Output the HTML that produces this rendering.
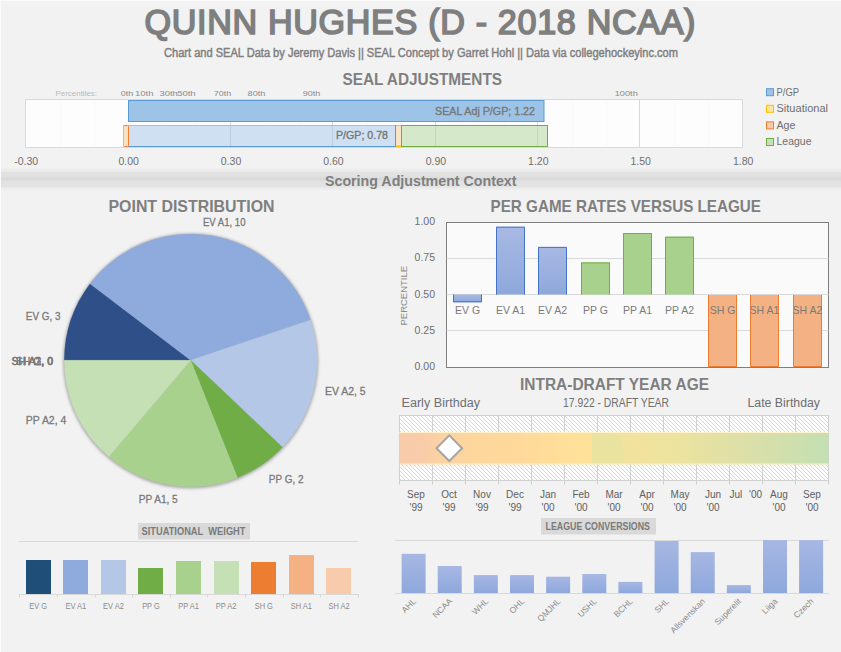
<!DOCTYPE html>
<html><head><meta charset="utf-8"><title>Quinn Hughes SEAL</title>
<style>html,body{margin:0;padding:0;background:#f2f2f2;width:841px;height:652px;overflow:hidden}svg{display:block}text{font-family:"Liberation Sans",sans-serif}</style>
</head><body>
<svg width="841" height="652" viewBox="0 0 841 652" font-family="Liberation Sans, sans-serif"><rect x="0" y="0" width="841" height="652" fill="#f2f2f2"/>
<rect x="0" y="0" width="841" height="1" fill="#fbfbfb"/>
<rect x="0" y="0" width="1" height="652" fill="#fbfbfb"/>
<text transform="scale(0.97,1)" x="148.97" y="34.3" font-size="35.2" stroke="#7f7f7f" stroke-width="1.7" fill="#7f7f7f" text-anchor="start" textLength="568.04" lengthAdjust="spacing" >QUINN HUGHES (D - 2018 NCAA)</text>
<text x="164" y="57" font-size="12.3" stroke="#7f7f7f" stroke-width="0.45" fill="#7f7f7f" text-anchor="start" textLength="514" lengthAdjust="spacingAndGlyphs" >Chart and SEAL Data by Jeremy Davis || SEAL Concept by Garret Hohl || Data via collegehockeyinc.com</text>
<text x="342.5" y="84.8" font-size="16.5" font-weight="bold" fill="#7f7f7f" text-anchor="start" textLength="159.5" lengthAdjust="spacingAndGlyphs" >SEAL ADJUSTMENTS</text>
<rect x="25.5" y="99.5" width="717" height="48" fill="#fdfdfd" stroke="#d9d9d9" stroke-width="1"/>
<line x1="60.5" y1="100" x2="60.5" y2="147" stroke="#f9f9f9" stroke-width="1"/>
<line x1="94.5" y1="100" x2="94.5" y2="147" stroke="#f9f9f9" stroke-width="1"/>
<line x1="162.5" y1="100" x2="162.5" y2="147" stroke="#f9f9f9" stroke-width="1"/>
<line x1="196.5" y1="100" x2="196.5" y2="147" stroke="#f9f9f9" stroke-width="1"/>
<line x1="265.5" y1="100" x2="265.5" y2="147" stroke="#f9f9f9" stroke-width="1"/>
<line x1="299.5" y1="100" x2="299.5" y2="147" stroke="#f9f9f9" stroke-width="1"/>
<line x1="367.5" y1="100" x2="367.5" y2="147" stroke="#f9f9f9" stroke-width="1"/>
<line x1="401.5" y1="100" x2="401.5" y2="147" stroke="#f9f9f9" stroke-width="1"/>
<line x1="469.5" y1="100" x2="469.5" y2="147" stroke="#f9f9f9" stroke-width="1"/>
<line x1="504.5" y1="100" x2="504.5" y2="147" stroke="#f9f9f9" stroke-width="1"/>
<line x1="572.5" y1="100" x2="572.5" y2="147" stroke="#f9f9f9" stroke-width="1"/>
<line x1="606.5" y1="100" x2="606.5" y2="147" stroke="#f9f9f9" stroke-width="1"/>
<line x1="674.5" y1="100" x2="674.5" y2="147" stroke="#f9f9f9" stroke-width="1"/>
<line x1="708.5" y1="100" x2="708.5" y2="147" stroke="#f9f9f9" stroke-width="1"/>
<line x1="230.5" y1="100" x2="230.5" y2="147" stroke="#d9d9d9" stroke-width="1"/>
<line x1="332.5" y1="100" x2="332.5" y2="147" stroke="#d9d9d9" stroke-width="1"/>
<line x1="435.5" y1="100" x2="435.5" y2="147" stroke="#d9d9d9" stroke-width="1"/>
<line x1="537.5" y1="100" x2="537.5" y2="147" stroke="#d9d9d9" stroke-width="1"/>
<line x1="639.5" y1="100" x2="639.5" y2="147" stroke="#d9d9d9" stroke-width="1"/>
<rect x="128.5" y="100.5" width="415.5" height="21" fill="#9dc3e6" stroke="#5b9bd5" stroke-width="1"/>
<text x="535" y="114.6" font-size="11.4" stroke="#767676" stroke-width="0.35" fill="#767676" text-anchor="end" textLength="100" lengthAdjust="spacingAndGlyphs" >SEAL Adj P/GP; 1.22</text>
<rect x="128" y="125" width="267" height="22" fill="#cfe0f2"/>
<rect x="230" y="126" width="1" height="20" fill="#b8cbdf"/>
<rect x="332" y="126" width="1" height="20" fill="#b8cbdf"/>
<rect x="128" y="125" width="267" height="1" fill="#9dc3e6"/>
<rect x="128" y="146" width="267" height="1" fill="#5b9bd5"/>
<text x="388" y="138.9" font-size="11.4" stroke="#767676" stroke-width="0.35" fill="#767676" text-anchor="end" textLength="52" lengthAdjust="spacingAndGlyphs" >P/GP; 0.78</text>
<rect x="395" y="125" width="153" height="22" fill="#d5e8c9"/>
<rect x="435" y="126" width="1" height="20" fill="#c3d9b5"/>
<rect x="537" y="126" width="1" height="20" fill="#c3d9b5"/>
<rect x="395.5" y="125.5" width="152" height="21" fill="none" stroke="#70ad47" stroke-width="1"/>
<rect x="396" y="125" width="5.5" height="21.5" fill="#fbe3c6"/>
<rect x="396" y="145.5" width="5.5" height="1.5" fill="#ffc000"/>
<rect x="396" y="125" width="5.5" height="1" fill="#f4b183"/>
<rect x="401" y="125" width="1" height="22" fill="#70ad47"/>
<rect x="123.5" y="125.5" width="5" height="21" rx="1" fill="#f8e0c0" stroke="#ed7d31" stroke-width="1"/>
<rect x="123" y="125" width="1" height="21" fill="#f4b183"/>
<text x="55.5" y="96" font-size="8" fill="#b8b8b8" text-anchor="start" textLength="41.5" lengthAdjust="spacingAndGlyphs" >Percentiles:</text>
<text x="120.7" y="96" font-size="8" fill="#8a8a8a" text-anchor="start" textLength="12.6" lengthAdjust="spacingAndGlyphs" >0th</text>
<text x="135.1" y="96" font-size="8" fill="#8a8a8a" text-anchor="start" textLength="18.4" lengthAdjust="spacingAndGlyphs" >10th</text>
<text x="159.39999999999998" y="96" font-size="8" fill="#8a8a8a" text-anchor="start" textLength="18.4" lengthAdjust="spacingAndGlyphs" >30th</text>
<text x="177.2" y="96" font-size="8" fill="#8a8a8a" text-anchor="start" textLength="18.4" lengthAdjust="spacingAndGlyphs" >50th</text>
<text x="213.79999999999998" y="96" font-size="8" fill="#8a8a8a" text-anchor="start" textLength="17.6" lengthAdjust="spacingAndGlyphs" >70th</text>
<text x="247.6" y="96" font-size="8" fill="#8a8a8a" text-anchor="start" textLength="17.8" lengthAdjust="spacingAndGlyphs" >80th</text>
<text x="302.7" y="96" font-size="8" fill="#8a8a8a" text-anchor="start" textLength="17.6" lengthAdjust="spacingAndGlyphs" >90th</text>
<text x="614.7" y="96" font-size="8" fill="#8a8a8a" text-anchor="start" textLength="23.1" lengthAdjust="spacingAndGlyphs" >100th</text>
<text x="26.2" y="165.3" font-size="10.5" fill="#6f6f6f" text-anchor="middle" >-0.30</text>
<text x="128.6" y="165.3" font-size="10.5" fill="#6f6f6f" text-anchor="middle" >0.00</text>
<text x="231.0" y="165.3" font-size="10.5" fill="#6f6f6f" text-anchor="middle" >0.30</text>
<text x="333.4" y="165.3" font-size="10.5" fill="#6f6f6f" text-anchor="middle" >0.60</text>
<text x="435.9" y="165.3" font-size="10.5" fill="#6f6f6f" text-anchor="middle" >0.90</text>
<text x="538.3" y="165.3" font-size="10.5" fill="#6f6f6f" text-anchor="middle" >1.20</text>
<text x="640.7" y="165.3" font-size="10.5" fill="#6f6f6f" text-anchor="middle" >1.50</text>
<text x="743.1" y="165.3" font-size="10.5" fill="#6f6f6f" text-anchor="middle" >1.80</text>
<rect x="766.5" y="88.7" width="7" height="7" fill="#9dc3e6" stroke="#5b9bd5" stroke-width="1"/>
<text x="776.5" y="95.5" font-size="10" fill="#6f6f6f" text-anchor="start" textLength="22.5" lengthAdjust="spacingAndGlyphs" >P/GP</text>
<rect x="766.5" y="105.3" width="7" height="7" fill="#ffe699" stroke="#ffc000" stroke-width="1"/>
<text x="776.5" y="112.10000000000001" font-size="10" fill="#6f6f6f" text-anchor="start" textLength="51.5" lengthAdjust="spacingAndGlyphs" >Situational</text>
<rect x="766.5" y="121.9" width="7" height="7" fill="#f8cbad" stroke="#ed7d31" stroke-width="1"/>
<text x="776.5" y="128.70000000000002" font-size="10" fill="#6f6f6f" text-anchor="start" textLength="19" lengthAdjust="spacingAndGlyphs" >Age</text>
<rect x="766.5" y="138.5" width="7" height="7" fill="#c5e0b4" stroke="#70ad47" stroke-width="1"/>
<text x="776.5" y="145.3" font-size="10" fill="#6f6f6f" text-anchor="start" textLength="35" lengthAdjust="spacingAndGlyphs" >League</text>
<defs><linearGradient id="band" x1="0" y1="168" x2="0" y2="190" gradientUnits="userSpaceOnUse"><stop offset="0" stop-color="#f0f0f0"/><stop offset="0.05" stop-color="#ececec"/><stop offset="0.16" stop-color="#eaeaea"/><stop offset="0.2" stop-color="#e3e3e3"/><stop offset="0.4" stop-color="#e0e0e0"/><stop offset="0.45" stop-color="#dadada"/><stop offset="0.55" stop-color="#dadada"/><stop offset="0.6" stop-color="#e1e1e1"/><stop offset="0.85" stop-color="#e3e3e3"/><stop offset="0.9" stop-color="#ebebeb"/><stop offset="0.98" stop-color="#eeeeee"/><stop offset="1" stop-color="#f2f2f2"/></linearGradient></defs>
<rect x="1" y="168" width="840" height="22" fill="url(#band)"/>
<text x="325" y="185.8" font-size="13.8" font-weight="bold" fill="#7f7f7f" text-anchor="start" textLength="191.5" lengthAdjust="spacingAndGlyphs" >Scoring Adjustment Context</text>
<text x="108.5" y="212" font-size="17.4" font-weight="bold" fill="#7f7f7f" text-anchor="start" textLength="166" lengthAdjust="spacingAndGlyphs" >POINT DISTRIBUTION</text>
<defs><filter id="psh" x="-10%" y="-10%" width="120%" height="120%"><feGaussianBlur stdDeviation="1.8"/></filter></defs>
<circle cx="190.7" cy="361.0" r="127.60000000000001" fill="#aaaaaa" filter="url(#psh)"/>
<path d="M190.7,360.3 L64.30,360.30 A126.4,126.4 0 0 1 90.07,283.81 Z" fill="#2e4f88" stroke="#2e4f88" stroke-width="0.3"/>
<path d="M190.7,360.3 L90.07,283.81 A126.4,126.4 0 0 1 310.48,319.94 Z" fill="#8faadc" stroke="#8faadc" stroke-width="0.3"/>
<path d="M190.7,360.3 L310.48,319.94 A126.4,126.4 0 0 1 282.47,447.23 Z" fill="#b4c7e7" stroke="#b4c7e7" stroke-width="0.3"/>
<path d="M190.7,360.3 L282.47,447.23 A126.4,126.4 0 0 1 237.49,477.72 Z" fill="#70ad47" stroke="#70ad47" stroke-width="0.3"/>
<path d="M190.7,360.3 L237.49,477.72 A126.4,126.4 0 0 1 108.87,456.64 Z" fill="#a9d18e" stroke="#a9d18e" stroke-width="0.3"/>
<path d="M190.7,360.3 L108.87,456.64 A126.4,126.4 0 0 1 64.30,360.30 Z" fill="#c5e0b4" stroke="#c5e0b4" stroke-width="0.3"/>
<text x="203.0" y="226" font-size="10.5" stroke="#7a7a7a" stroke-width="0.3" fill="#7a7a7a" text-anchor="start" textLength="42.5" lengthAdjust="spacingAndGlyphs" >EV A1, 10</text>
<text x="25.8" y="320" font-size="10.5" stroke="#7a7a7a" stroke-width="0.3" fill="#7a7a7a" text-anchor="start" textLength="34.6" lengthAdjust="spacingAndGlyphs" >EV G, 3</text>
<text x="25.8" y="424.1" font-size="10.5" stroke="#7a7a7a" stroke-width="0.3" fill="#7a7a7a" text-anchor="start" textLength="40.5" lengthAdjust="spacingAndGlyphs" >PP A2, 4</text>
<text x="138.7" y="503" font-size="10.5" stroke="#7a7a7a" stroke-width="0.3" fill="#7a7a7a" text-anchor="start" textLength="39.0" lengthAdjust="spacingAndGlyphs" >PP A1, 5</text>
<text x="268.8" y="483" font-size="10.5" stroke="#7a7a7a" stroke-width="0.3" fill="#7a7a7a" text-anchor="start" textLength="34.7" lengthAdjust="spacingAndGlyphs" >PP G, 2</text>
<text x="325.1" y="395.3" font-size="10.5" stroke="#7a7a7a" stroke-width="0.3" fill="#7a7a7a" text-anchor="start" textLength="40.5" lengthAdjust="spacingAndGlyphs" >EV A2, 5</text>
<text x="53" y="365" font-size="10.5" stroke="#7a7a7a" stroke-width="0.3" fill="#7a7a7a" text-anchor="end" >SH G, 0</text>
<text x="53" y="365" font-size="10.5" stroke="#7a7a7a" stroke-width="0.3" fill="#7a7a7a" text-anchor="end" >SH A1, 0</text>
<text x="53" y="365" font-size="10.5" stroke="#7a7a7a" stroke-width="0.3" fill="#7a7a7a" text-anchor="end" >SH A2, 0</text>
<text x="490.5" y="212" font-size="16.7" font-weight="bold" fill="#7f7f7f" text-anchor="start" textLength="270.5" lengthAdjust="spacingAndGlyphs" >PER GAME RATES VERSUS LEAGUE</text>
<rect x="446.5" y="222.5" width="382.0" height="145.0" fill="#fafafa" stroke="#7f7f7f" stroke-width="1"/>
<line x1="446.5" y1="330.5" x2="828.5" y2="330.5" stroke="#d9d9d9" stroke-width="1"/>
<line x1="446.5" y1="294.5" x2="828.5" y2="294.5" stroke="#d9d9d9" stroke-width="1"/>
<line x1="446.5" y1="258.5" x2="828.5" y2="258.5" stroke="#d9d9d9" stroke-width="1"/>
<defs><linearGradient id="bg1" x1="0" y1="0" x2="0" y2="1"><stop offset="0" stop-color="#a8b9e3"/><stop offset="1" stop-color="#8ea8dc"/></linearGradient></defs>
<rect x="453.0" y="294.5" width="29" height="7.8" fill="url(#bg1)"/>
<path d="M453.5,294.5 V301.8 H481.5 V294.5" fill="none" stroke="#4472c4" stroke-width="1"/>
<rect x="496.0" y="226.7" width="29" height="67.8" fill="url(#bg1)"/>
<path d="M496.5,294.5 V227.2 H524.5 V294.5" fill="none" stroke="#4472c4" stroke-width="1"/>
<rect x="538.0" y="246.9" width="29" height="47.6" fill="url(#bg1)"/>
<path d="M538.5,294.5 V247.4 H566.5 V294.5" fill="none" stroke="#4472c4" stroke-width="1"/>
<rect x="581.0" y="262.4" width="29" height="32.1" fill="#a9d18e"/>
<path d="M581.5,294.5 V262.9 H609.5 V294.5" fill="none" stroke="#70ad47" stroke-width="1"/>
<rect x="623.0" y="233.0" width="29" height="61.5" fill="#a9d18e"/>
<path d="M623.5,294.5 V233.5 H651.5 V294.5" fill="none" stroke="#70ad47" stroke-width="1"/>
<rect x="665.0" y="236.7" width="29" height="57.8" fill="#a9d18e"/>
<path d="M665.5,294.5 V237.2 H693.5 V294.5" fill="none" stroke="#70ad47" stroke-width="1"/>
<rect x="708.0" y="295.0" width="29" height="72.0" fill="#f4b183"/>
<path d="M708.5,295.0 V366.5 H736.5 V295.0" fill="none" stroke="#ed7d31" stroke-width="1"/>
<rect x="750.0" y="295.0" width="29" height="72.0" fill="#f4b183"/>
<path d="M750.5,295.0 V366.5 H778.5 V295.0" fill="none" stroke="#ed7d31" stroke-width="1"/>
<rect x="793.0" y="295.0" width="29" height="72.0" fill="#f4b183"/>
<path d="M793.5,295.0 V366.5 H821.5 V295.0" fill="none" stroke="#ed7d31" stroke-width="1"/>
<text x="467.5" y="313.9" font-size="10.5" fill="#7a7a7a" text-anchor="middle" >EV G</text>
<text x="510.5" y="313.9" font-size="10.5" fill="#7a7a7a" text-anchor="middle" >EV A1</text>
<text x="552.5" y="313.9" font-size="10.5" fill="#7a7a7a" text-anchor="middle" >EV A2</text>
<text x="595.5" y="313.9" font-size="10.5" fill="#7a7a7a" text-anchor="middle" >PP G</text>
<text x="637.5" y="313.9" font-size="10.5" fill="#7a7a7a" text-anchor="middle" >PP A1</text>
<text x="679.5" y="313.9" font-size="10.5" fill="#7a7a7a" text-anchor="middle" >PP A2</text>
<text x="722.5" y="313.9" font-size="10.5" fill="#7a7a7a" text-anchor="middle" >SH G</text>
<text x="764.5" y="313.9" font-size="10.5" fill="#7a7a7a" text-anchor="middle" >SH A1</text>
<text x="807.5" y="313.9" font-size="10.5" fill="#7a7a7a" text-anchor="middle" >SH A2</text>
<text x="435" y="370.2" font-size="10.5" fill="#6f6f6f" text-anchor="end" >0.00</text>
<text x="435" y="333.95" font-size="10.5" fill="#6f6f6f" text-anchor="end" >0.25</text>
<text x="435" y="297.7" font-size="10.5" fill="#6f6f6f" text-anchor="end" >0.50</text>
<text x="435" y="261.45" font-size="10.5" fill="#6f6f6f" text-anchor="end" >0.75</text>
<text x="435" y="225.2" font-size="10.5" fill="#6f6f6f" text-anchor="end" >1.00</text>
<text x="0" y="0" font-size="9.5" fill="#8a8a8a" text-anchor="middle" transform="translate(407.3,295.7) rotate(-90)" font-family="Liberation Sans, sans-serif">PERCENTILE</text>
<text x="520" y="390" font-size="17.4" font-weight="bold" fill="#7f7f7f" text-anchor="start" textLength="189" lengthAdjust="spacingAndGlyphs" >INTRA-DRAFT YEAR AGE</text>
<text x="401.5" y="407" font-size="12" fill="#6f6f6f" text-anchor="start" textLength="78.5" lengthAdjust="spacingAndGlyphs" >Early Birthday</text>
<text x="563" y="407" font-size="12" fill="#6f6f6f" text-anchor="start" textLength="106" lengthAdjust="spacingAndGlyphs" >17.922 - DRAFT YEAR</text>
<text x="747.5" y="407.2" font-size="12" fill="#6f6f6f" text-anchor="start" textLength="72.5" lengthAdjust="spacingAndGlyphs" >Late Birthday</text>
<defs><pattern id="hatch" x="1" y="0" width="4" height="4" patternUnits="userSpaceOnUse"><rect width="4" height="4" fill="#ffffff"/><rect x="0" y="0" width="1" height="1" fill="#d6d6d6"/><rect x="1" y="1" width="1" height="1" fill="#d6d6d6"/><rect x="2" y="2" width="1" height="1" fill="#d6d6d6"/><rect x="3" y="3" width="1" height="1" fill="#d6d6d6"/></pattern><linearGradient id="agegrad" x1="399" y1="0" x2="828" y2="0" gradientUnits="userSpaceOnUse"><stop offset="0" stop-color="#f8cbab"/><stop offset="0.047" stop-color="#f8cbab"/><stop offset="0.095" stop-color="#fbd2a2"/><stop offset="0.165" stop-color="#fdd69d"/><stop offset="0.282" stop-color="#ffd99a"/><stop offset="0.42" stop-color="#ffe199"/><stop offset="0.448" stop-color="#ffe29a"/><stop offset="0.452" stop-color="#f4e29c"/><stop offset="0.55" stop-color="#f1e29d"/><stop offset="0.62" stop-color="#eee39e"/><stop offset="0.65" stop-color="#ece39f"/><stop offset="0.75" stop-color="#e2e0a4"/><stop offset="0.867" stop-color="#d5dfab"/><stop offset="1" stop-color="#c3dfb3"/></linearGradient></defs>
<rect x="399" y="415" width="430" height="66" fill="url(#hatch)"/>
<rect x="399.5" y="415.5" width="429" height="65" fill="none" stroke="#d0d0d0" stroke-width="1"/>
<line x1="399.5" y1="415" x2="399.5" y2="484.5" stroke="#d0d0d0" stroke-width="1"/>
<line x1="432.5" y1="415" x2="432.5" y2="484.5" stroke="#d0d0d0" stroke-width="1"/>
<line x1="465.5" y1="415" x2="465.5" y2="484.5" stroke="#d0d0d0" stroke-width="1"/>
<line x1="498.5" y1="415" x2="498.5" y2="484.5" stroke="#d0d0d0" stroke-width="1"/>
<line x1="531.5" y1="415" x2="531.5" y2="484.5" stroke="#d0d0d0" stroke-width="1"/>
<line x1="564.5" y1="415" x2="564.5" y2="484.5" stroke="#d0d0d0" stroke-width="1"/>
<line x1="597.5" y1="415" x2="597.5" y2="484.5" stroke="#d0d0d0" stroke-width="1"/>
<line x1="630.5" y1="415" x2="630.5" y2="484.5" stroke="#d0d0d0" stroke-width="1"/>
<line x1="663.5" y1="415" x2="663.5" y2="484.5" stroke="#d0d0d0" stroke-width="1"/>
<line x1="696.5" y1="415" x2="696.5" y2="484.5" stroke="#d0d0d0" stroke-width="1"/>
<line x1="729.5" y1="415" x2="729.5" y2="484.5" stroke="#d0d0d0" stroke-width="1"/>
<line x1="762.5" y1="415" x2="762.5" y2="484.5" stroke="#d0d0d0" stroke-width="1"/>
<line x1="795.5" y1="415" x2="795.5" y2="484.5" stroke="#d0d0d0" stroke-width="1"/>
<line x1="828.5" y1="415" x2="828.5" y2="484.5" stroke="#d0d0d0" stroke-width="1"/>
<rect x="399.5" y="432" width="429" height="32.5" fill="url(#agegrad)"/>
<path d="M592,433 H611 Q622,436 624,448 V464 H592 Z" fill="#eae3a0"/>
<rect x="399.5" y="432" width="429" height="1" fill="#fff2cc"/>
<rect x="399.5" y="463.5" width="429" height="1" fill="#fff2cc"/>
<path d="M436.5,448.2 L449.3,435.4 L462.1,448.2 L449.3,461.0 Z" fill="#ffffff" stroke="#a5a5a5" stroke-width="2"/>
<text x="416.0" y="497.8" font-size="10" fill="#606060" text-anchor="middle" >Sep</text>
<text x="416.0" y="510.8" font-size="10" fill="#606060" text-anchor="middle" >'99</text>
<text x="449.0" y="497.8" font-size="10" fill="#606060" text-anchor="middle" >Oct</text>
<text x="449.0" y="510.8" font-size="10" fill="#606060" text-anchor="middle" >'99</text>
<text x="482.0" y="497.8" font-size="10" fill="#606060" text-anchor="middle" >Nov</text>
<text x="482.0" y="510.8" font-size="10" fill="#606060" text-anchor="middle" >'99</text>
<text x="515.0" y="497.8" font-size="10" fill="#606060" text-anchor="middle" >Dec</text>
<text x="515.0" y="510.8" font-size="10" fill="#606060" text-anchor="middle" >'99</text>
<text x="548.0" y="497.8" font-size="10" fill="#606060" text-anchor="middle" >Jan</text>
<text x="548.0" y="510.8" font-size="10" fill="#606060" text-anchor="middle" >'00</text>
<text x="581.0" y="497.8" font-size="10" fill="#606060" text-anchor="middle" >Feb</text>
<text x="581.0" y="510.8" font-size="10" fill="#606060" text-anchor="middle" >'00</text>
<text x="614.0" y="497.8" font-size="10" fill="#606060" text-anchor="middle" >Mar</text>
<text x="614.0" y="510.8" font-size="10" fill="#606060" text-anchor="middle" >'00</text>
<text x="647.0" y="497.8" font-size="10" fill="#606060" text-anchor="middle" >Apr</text>
<text x="647.0" y="510.8" font-size="10" fill="#606060" text-anchor="middle" >'00</text>
<text x="680.0" y="497.8" font-size="10" fill="#606060" text-anchor="middle" >May</text>
<text x="680.0" y="510.8" font-size="10" fill="#606060" text-anchor="middle" >'00</text>
<text x="713.0" y="497.8" font-size="10" fill="#606060" text-anchor="middle" >Jun</text>
<text x="713.0" y="510.8" font-size="10" fill="#606060" text-anchor="middle" >'00</text>
<text x="735.8" y="497.8" font-size="10" fill="#606060" text-anchor="middle" >Jul</text>
<text x="755.5" y="497.8" font-size="10" fill="#606060" text-anchor="middle" >'00</text>
<text x="779.0" y="497.8" font-size="10" fill="#606060" text-anchor="middle" >Aug</text>
<text x="779.0" y="510.8" font-size="10" fill="#606060" text-anchor="middle" >'00</text>
<text x="812.0" y="497.8" font-size="10" fill="#606060" text-anchor="middle" >Sep</text>
<text x="812.0" y="510.8" font-size="10" fill="#606060" text-anchor="middle" >'00</text>
<rect x="138" y="523" width="112" height="16.5" fill="#d9d9d9"/>
<text x="141.5" y="534.7" font-size="10.2" font-weight="bold" fill="#7a7a7a" text-anchor="start" textLength="104" lengthAdjust="spacingAndGlyphs" >SITUATIONAL  WEIGHT</text>
<rect x="19" y="541" width="339" height="1" fill="#d9d9d9"/>
<rect x="19" y="594" width="339" height="1" fill="#d9d9d9"/>
<rect x="26" y="560" width="25" height="34" fill="#1f4e79"/>
<text x="38.2" y="609" font-size="8.5" fill="#8a8a8a" text-anchor="middle" textLength="17.9" lengthAdjust="spacingAndGlyphs" >EV G</text>
<rect x="63" y="560" width="25" height="34" fill="#8faadc"/>
<text x="75.8" y="609" font-size="8.5" fill="#8a8a8a" text-anchor="middle" textLength="20.8" lengthAdjust="spacingAndGlyphs" >EV A1</text>
<rect x="101" y="560" width="25" height="34" fill="#b4c7e7"/>
<text x="113.4" y="609" font-size="8.5" fill="#8a8a8a" text-anchor="middle" textLength="20.8" lengthAdjust="spacingAndGlyphs" >EV A2</text>
<rect x="138" y="568" width="25" height="26" fill="#70ad47"/>
<text x="151.0" y="609" font-size="8.5" fill="#8a8a8a" text-anchor="middle" textLength="17.7" lengthAdjust="spacingAndGlyphs" >PP G</text>
<rect x="176" y="561" width="25" height="33" fill="#a9d18e"/>
<text x="188.6" y="609" font-size="8.5" fill="#8a8a8a" text-anchor="middle" textLength="20.7" lengthAdjust="spacingAndGlyphs" >PP A1</text>
<rect x="214" y="561" width="25" height="33" fill="#c5e0b4"/>
<text x="226.2" y="609" font-size="8.5" fill="#8a8a8a" text-anchor="middle" textLength="20.7" lengthAdjust="spacingAndGlyphs" >PP A2</text>
<rect x="251" y="562" width="25" height="32" fill="#ed7d31"/>
<text x="263.8" y="609" font-size="8.5" fill="#8a8a8a" text-anchor="middle" textLength="18.3" lengthAdjust="spacingAndGlyphs" >SH G</text>
<rect x="289" y="555" width="25" height="39" fill="#f4b183"/>
<text x="301.4" y="609" font-size="8.5" fill="#8a8a8a" text-anchor="middle" textLength="21.2" lengthAdjust="spacingAndGlyphs" >SH A1</text>
<rect x="326" y="568" width="25" height="26" fill="#f8cbad"/>
<text x="339.0" y="609" font-size="8.5" fill="#8a8a8a" text-anchor="middle" textLength="21.2" lengthAdjust="spacingAndGlyphs" >SH A2</text>
<line x1="19.5" y1="594" x2="19.5" y2="597.5" stroke="#d9d9d9" stroke-width="1"/>
<line x1="57.5" y1="594" x2="57.5" y2="597.5" stroke="#d9d9d9" stroke-width="1"/>
<line x1="95.5" y1="594" x2="95.5" y2="597.5" stroke="#d9d9d9" stroke-width="1"/>
<line x1="132.5" y1="594" x2="132.5" y2="597.5" stroke="#d9d9d9" stroke-width="1"/>
<line x1="170.5" y1="594" x2="170.5" y2="597.5" stroke="#d9d9d9" stroke-width="1"/>
<line x1="207.5" y1="594" x2="207.5" y2="597.5" stroke="#d9d9d9" stroke-width="1"/>
<line x1="245.5" y1="594" x2="245.5" y2="597.5" stroke="#d9d9d9" stroke-width="1"/>
<line x1="283.5" y1="594" x2="283.5" y2="597.5" stroke="#d9d9d9" stroke-width="1"/>
<line x1="320.5" y1="594" x2="320.5" y2="597.5" stroke="#d9d9d9" stroke-width="1"/>
<line x1="358.5" y1="594" x2="358.5" y2="597.5" stroke="#d9d9d9" stroke-width="1"/>
<rect x="541" y="518" width="115" height="16.5" fill="#d9d9d9"/>
<text x="545.5" y="529.8" font-size="10.2" font-weight="bold" fill="#7a7a7a" text-anchor="start" textLength="104.5" lengthAdjust="spacingAndGlyphs" >LEAGUE CONVERSIONS</text>
<rect x="395" y="540" width="434" height="1" fill="#d9d9d9"/>
<rect x="395" y="593" width="434" height="1" fill="#d9d9d9"/>
<defs><linearGradient id="lg" x1="0" y1="0" x2="0" y2="1"><stop offset="0" stop-color="#a7b7e3"/><stop offset="1" stop-color="#8ea8dc"/></linearGradient></defs>
<rect x="401.6" y="553.8" width="24" height="39.2" fill="url(#lg)"/>
<text x="0" y="0" font-size="8.5" fill="#8a8a8a" text-anchor="end" transform="translate(416.6,601.8) rotate(-45)" font-family="Liberation Sans, sans-serif">AHL</text>
<rect x="437.7" y="566" width="24" height="27.0" fill="url(#lg)"/>
<text x="0" y="0" font-size="8.5" fill="#8a8a8a" text-anchor="end" transform="translate(452.7,601.8) rotate(-45)" font-family="Liberation Sans, sans-serif">NCAA</text>
<rect x="473.9" y="575.1" width="24" height="17.9" fill="url(#lg)"/>
<text x="0" y="0" font-size="8.5" fill="#8a8a8a" text-anchor="end" transform="translate(488.9,601.8) rotate(-45)" font-family="Liberation Sans, sans-serif">WHL</text>
<rect x="510.0" y="575.1" width="24" height="17.9" fill="url(#lg)"/>
<text x="0" y="0" font-size="8.5" fill="#8a8a8a" text-anchor="end" transform="translate(525.0,601.8) rotate(-45)" font-family="Liberation Sans, sans-serif">OHL</text>
<rect x="546.1" y="576.7" width="24" height="16.3" fill="url(#lg)"/>
<text x="0" y="0" font-size="8.5" fill="#8a8a8a" text-anchor="end" transform="translate(561.1,601.8) rotate(-45)" font-family="Liberation Sans, sans-serif">QMJHL</text>
<rect x="582.3" y="574" width="24" height="19.0" fill="url(#lg)"/>
<text x="0" y="0" font-size="8.5" fill="#8a8a8a" text-anchor="end" transform="translate(597.3,601.8) rotate(-45)" font-family="Liberation Sans, sans-serif">USHL</text>
<rect x="618.4" y="581.9" width="24" height="11.1" fill="url(#lg)"/>
<text x="0" y="0" font-size="8.5" fill="#8a8a8a" text-anchor="end" transform="translate(633.4,601.8) rotate(-45)" font-family="Liberation Sans, sans-serif">BCHL</text>
<rect x="654.6" y="541" width="24" height="52.0" fill="url(#lg)"/>
<text x="0" y="0" font-size="8.5" fill="#8a8a8a" text-anchor="end" transform="translate(669.6,601.8) rotate(-45)" font-family="Liberation Sans, sans-serif">SHL</text>
<rect x="690.7" y="552.1" width="24" height="40.9" fill="url(#lg)"/>
<text x="0" y="0" font-size="8.5" fill="#8a8a8a" text-anchor="end" transform="translate(705.7,601.8) rotate(-45)" font-family="Liberation Sans, sans-serif">Allsvenskan</text>
<rect x="726.8" y="585.1" width="24" height="7.9" fill="url(#lg)"/>
<text x="0" y="0" font-size="8.5" fill="#8a8a8a" text-anchor="end" transform="translate(741.8,601.8) rotate(-45)" font-family="Liberation Sans, sans-serif">Superelit</text>
<rect x="763.0" y="540.1" width="24" height="52.9" fill="url(#lg)"/>
<text x="0" y="0" font-size="8.5" fill="#8a8a8a" text-anchor="end" transform="translate(778.0,601.8) rotate(-45)" font-family="Liberation Sans, sans-serif">Liiga</text>
<rect x="799.1" y="540.1" width="24" height="52.9" fill="url(#lg)"/>
<text x="0" y="0" font-size="8.5" fill="#8a8a8a" text-anchor="end" transform="translate(814.1,601.8) rotate(-45)" font-family="Liberation Sans, sans-serif">Czech</text></svg>
</body></html>
